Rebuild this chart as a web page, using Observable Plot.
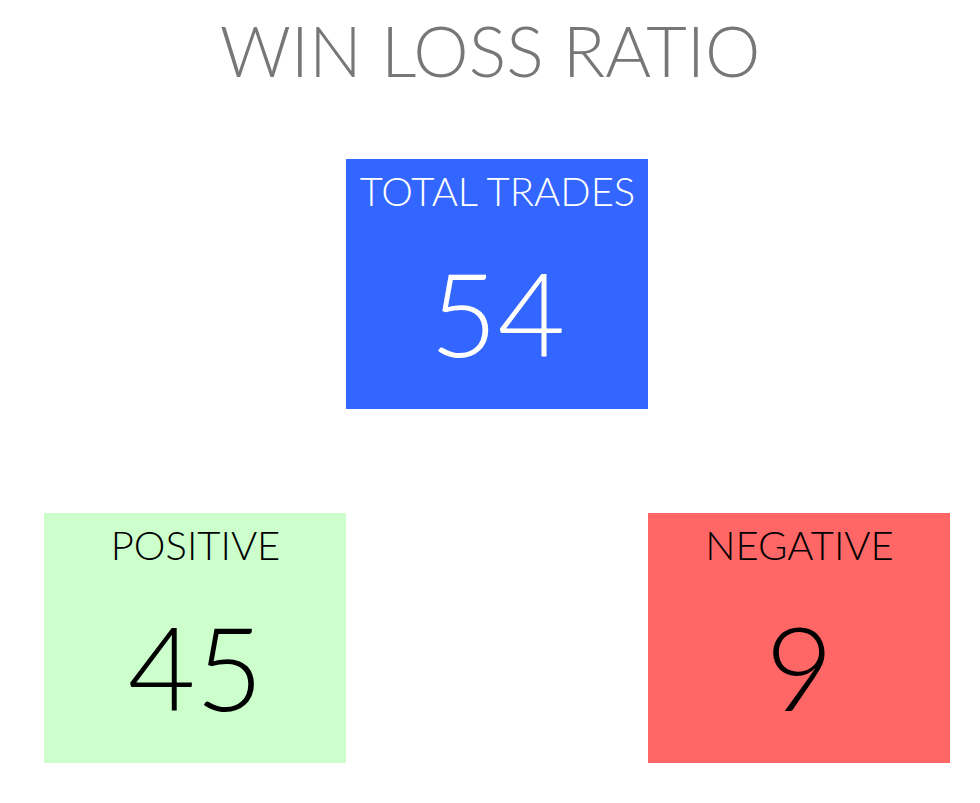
<!DOCTYPE html>
<html>
<head>
<meta charset="utf-8">
<script src="https://cdn.jsdelivr.net/npm/d3@7"></script>
<script src="https://cdn.jsdelivr.net/npm/@observablehq/plot@0.6"></script>
<style>
  html, body { margin: 0; padding: 0; background: #fff; }
  #title { height: 100px; line-height: 100px; text-align: center; font-family: Lato, sans-serif; font-weight: 300; font-size: 70px; color: #777777; }
  #chart svg { display: block; }
</style>
</head>
<body>
<div id="title">WIN LOSS RATIO</div>
<div id="chart"></div>
<script>
const categories = ["TOTAL TRADES", "POSITIVE", "NEGATIVE"];
const values = [54, 45, 9];
const fills = ["#3366FF", "#CCFFCC", "#FF6666"];
const textColors = ["#ffffff", "#000000", "#000000"];

// layout: total on top in the middle, positive bottom-left, negative bottom-right
const column = {"POSITIVE": "left", "TOTAL TRADES": "center", "NEGATIVE": "right"};
const row = {"TOTAL TRADES": "top", "POSITIVE": "bottom", "NEGATIVE": "bottom"};

const data = categories.map((c, i) => ({
  category: c, value: values[i], fill: fills[i], color: textColors[i],
  col: column[c], row: row[c]
}));

const chart = Plot.plot({
  width: 980,
  height: 703,
  margin: 0,
  x: {type: "band", domain: ["left", "center", "right"], range: [43, 951], padding: 0, axis: null},
  y: {type: "band", domain: ["top", "bottom"], range: [59, 663], paddingInner: 0.294, paddingOuter: 0, axis: null},
  style: {fontFamily: "Lato, sans-serif"},
  marks: [
    Plot.cell(data, {x: "col", y: "row", fill: d => d.fill, inset: 0}),
    Plot.text(data, {x: "col", y: "row", text: "category", fill: d => d.color, fontSize: 40, fontWeight: 300, dy: -91, lineAnchor: "middle"}),
    Plot.text(data, {x: "col", y: "row", text: d => String(d.value), fill: d => d.color, fontSize: 117, fontWeight: 300, dy: 35, lineAnchor: "middle"})
  ]
});
document.getElementById("chart").appendChild(chart);
</script>
</body>
</html>
